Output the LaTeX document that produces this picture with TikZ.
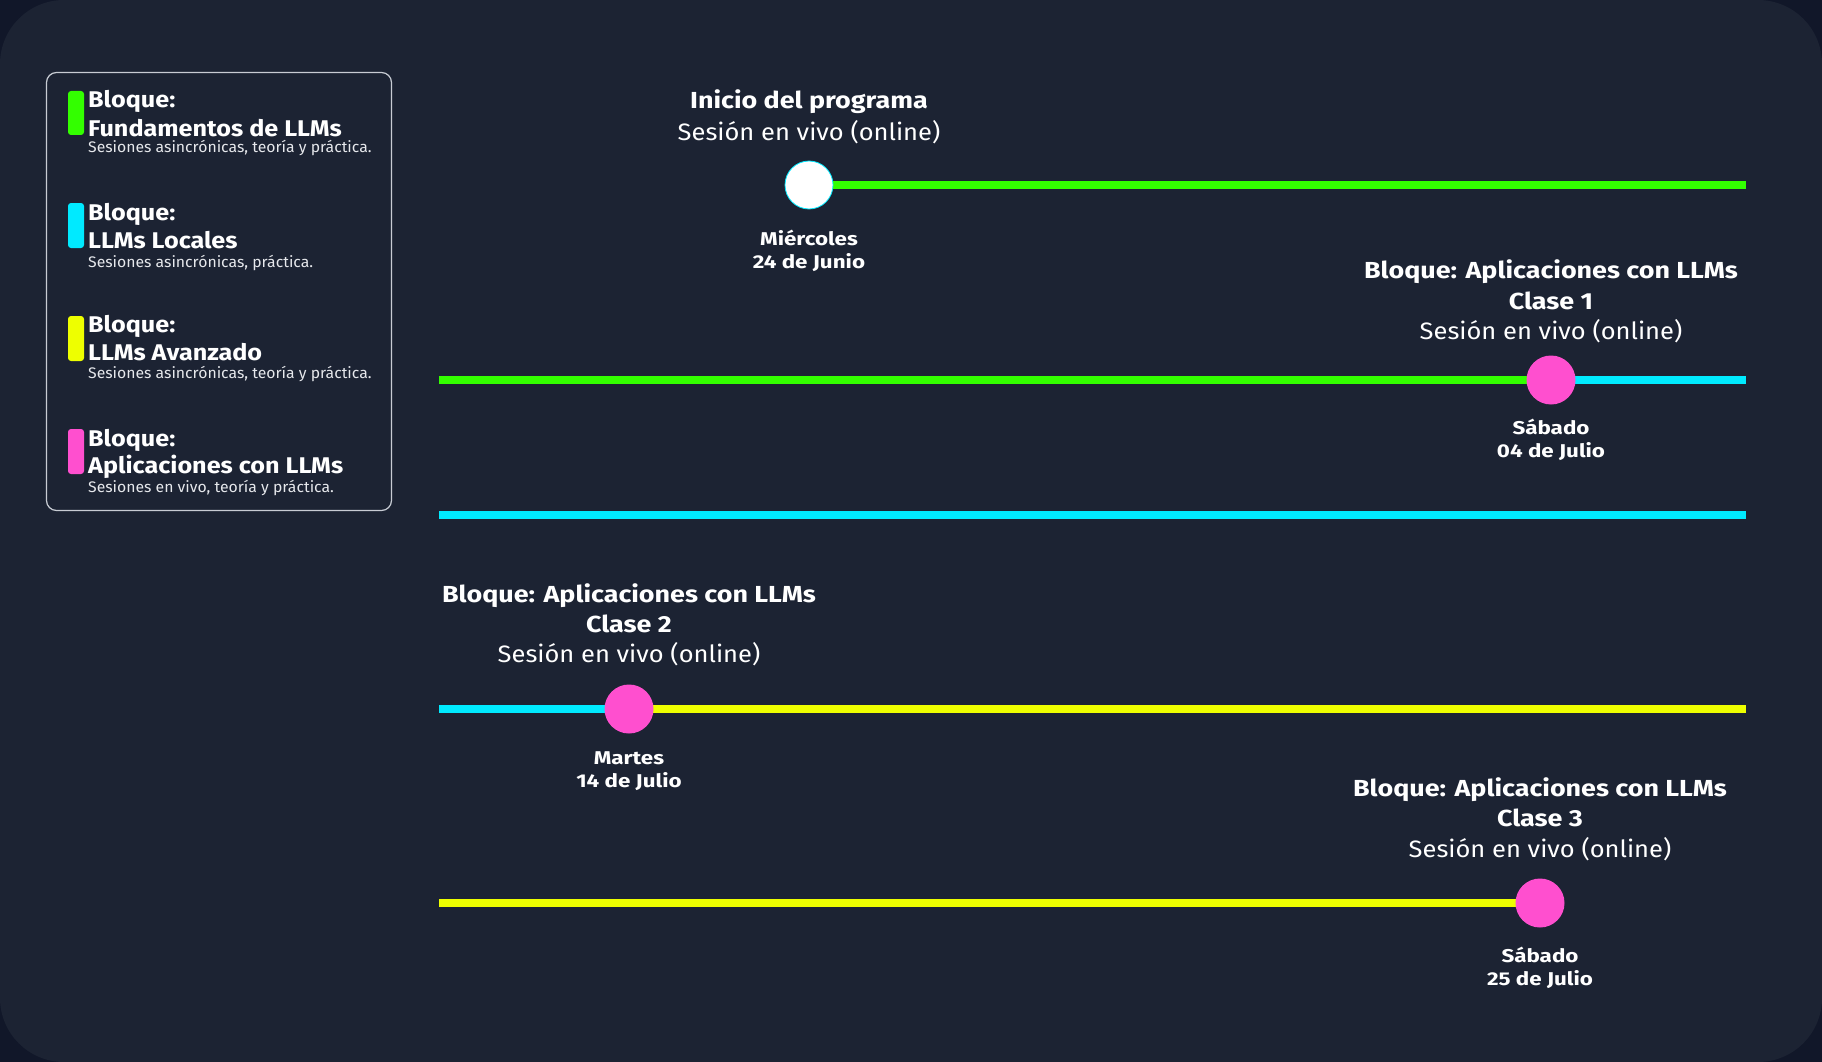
\documentclass[tikz,border=0pt]{standalone}
\usepackage{fontspec}
\setmainfont{Fira Sans}
\newfontfamily\fttl{Fira Sans}[FakeStretch=1.16]
\newfontfamily\fsub{Fira Sans}[FakeStretch=1.075]
\newfontfamily\fdte{Fira Sans}[FakeStretch=1.21]
\newfontfamily\flgt{Fira Sans}[FakeStretch=1.11]
\newfontfamily\flgs{Fira Sans}[FakeStretch=1.03]
\usetikzlibrary{backgrounds}
\definecolor{outerbg}{HTML}{111729}
\definecolor{innerbg}{HTML}{1C2333}
\definecolor{cgreen}{HTML}{33FF00}
\definecolor{ccyan}{HTML}{00EAFF}
\definecolor{cyellow}{HTML}{EEFF00}
\definecolor{cpink}{HTML}{FF4FCF}
\definecolor{subgrey}{HTML}{E6E8EC}
\definecolor{boxline}{HTML}{C8CCD4}
\tikzset{
  txt/.style={inner sep=0pt, anchor=base, text=white},
  ttl/.style={txt, font=\fttl\fontsize{23.2}{26}\selectfont\bfseries},
  sub/.style={txt, font=\fsub\fontsize{23.7}{26}\selectfont},
  dte/.style={txt, font=\fdte\fontsize{18.5}{21}\selectfont\bfseries},
  lgt/.style={inner sep=0pt, anchor=base west, text=white, font=\flgt\fontsize{22.7}{26}\selectfont\bfseries},
  lgs/.style={inner sep=0pt, anchor=base west, text=subgrey, font=\flgs\fontsize{15.3}{17}\selectfont},
  lbar/.style={rounded corners=3pt},
  tline/.style={line width=8pt},
  dot/.style={circle, minimum size=49pt, inner sep=0pt, fill=cpink},
  startdot/.style={circle, minimum size=48pt, inner sep=0pt, fill=white, draw=ccyan, line width=0.8pt},
}
\begin{document}
\begin{tikzpicture}[x=1pt,y=-1pt]
\useasboundingbox (0,0) rectangle (1822,1062);

% legend
\draw[boxline, line width=1.2pt, rounded corners=10pt] (46.5,72.5) rectangle (391.5,510.5);
\fill[cgreen, lbar] (68,91) rectangle (84,135);
\fill[ccyan, lbar] (68,203) rectangle (84,248);
\fill[cyellow, lbar] (68,316) rectangle (84,361);
\fill[cpink, lbar] (68,429) rectangle (84,474);
\node[lgt] (lg1a) at (88,108) {Bloque:};
\node[lgt] (lg1b) at (88,136) {Fundamentos de LLMs};
\node[lgs] (lg1c) at (88,153) {Sesiones asincrónicas, teoría y práctica.};
\node[lgt] (lg2a) at (88,220) {Bloque:};
\node[lgt] (lg2b) at (88,248) {LLMs Locales};
\node[lgs] (lg2c) at (88,267) {Sesiones asincrónicas, práctica.};
\node[lgt] (lg3a) at (88,332) {Bloque:};
\node[lgt] (lg3b) at (88,360) {LLMs Avanzado};
\node[lgs] (lg3c) at (88,378) {Sesiones asincrónicas, teoría y práctica.};
\node[lgt] (lg4a) at (88,446) {Bloque:};
\node[lgt] (lg4b) at (88,473) {Aplicaciones con LLMs};
\node[lgs] (lg4c) at (88,492) {Sesiones en vivo, teoría y práctica.};

% timeline coordinates
\coordinate (e1) at (1746,185);
\coordinate (s2) at (439,380);
\coordinate (e2) at (1746,380);
\coordinate (s3) at (439,515);
\coordinate (e3) at (1746,515);
\coordinate (s4) at (439,709);
\coordinate (e4) at (1746,709);
\coordinate (s5) at (439,903);

% milestone circles
\node[startdot] (c1) at (809,185) {};
\node[dot] (c2) at (1551,380) {};
\node[dot] (c3) at (629,709) {};
\node[dot] (c4) at (1540,903) {};

\begin{scope}[on background layer]
\fill[outerbg] (0,0) rectangle (1822,1062);
\fill[innerbg, rounded corners=64pt] (0,0) rectangle (1822,1062);
\draw[tline, cgreen] (c1.center) -- (e1);
\draw[tline, cgreen] (s2) -- (c2.center);
\draw[tline, ccyan] (c2.center) -- (e2);
\draw[tline, ccyan] (s3) -- (e3);
\draw[tline, ccyan] (s4) -- (c3.center);
\draw[tline, cyellow] (c3.center) -- (e4);
\draw[tline, cyellow] (s5) -- (c4.center);
\end{scope}

% labels
\node[ttl] (t1a) at (809,109) {Inicio del programa};
\node[sub] (t1b) at (809,140) {Sesión en vivo (online)};
\node[dte] (d1a) at (809,245) {Miércoles};
\node[dte] (d1b) at (809,268) {24 de Junio};

\node[ttl] (t2a) at (1551,278) {Bloque: Aplicaciones con LLMs};
\node[ttl] (t2b) at (1551,309) {Clase 1};
\node[sub] (t2c) at (1551,339) {Sesión en vivo (online)};
\node[dte] (d2a) at (1551,434) {Sábado};
\node[dte] (d2b) at (1551,457) {04 de Julio};

\node[ttl] (t3a) at (629,602) {Bloque: Aplicaciones con LLMs};
\node[ttl] (t3b) at (629,632) {Clase 2};
\node[sub] (t3c) at (629,662) {Sesión en vivo (online)};
\node[dte] (d3a) at (629,764) {Martes};
\node[dte] (d3b) at (629,787) {14 de Julio};

\node[ttl] (t4a) at (1540,796) {Bloque: Aplicaciones con LLMs};
\node[ttl] (t4b) at (1540,826) {Clase 3};
\node[sub] (t4c) at (1540,857) {Sesión en vivo (online)};
\node[dte] (d4a) at (1540,962) {Sábado};
\node[dte] (d4b) at (1540,985) {25 de Julio};
\end{tikzpicture}
\end{document}
